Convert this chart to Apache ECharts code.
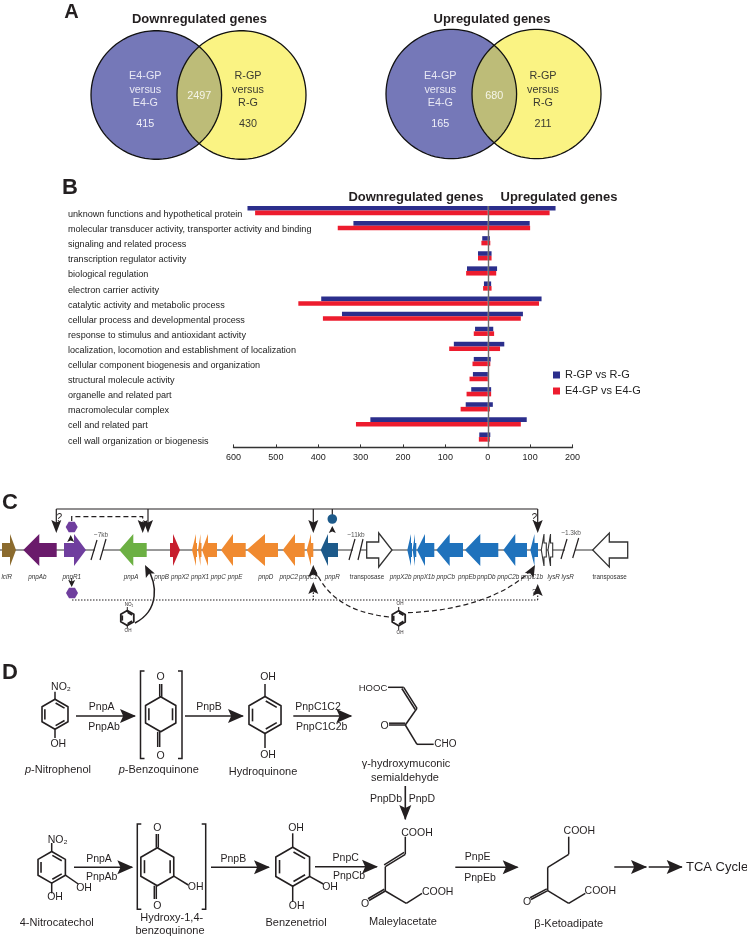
<!DOCTYPE html>
<html><head><meta charset="utf-8">
<style>html,body{margin:0;padding:0;background:#fff}#c{width:747px;height:939px}</style>
<script src="https://cdn.jsdelivr.net/npm/echarts@6/dist/echarts.min.js"></script>
</head><body><div id="c"></div>
<script>
// ---------- data ----------
const categories = ['unknown functions and hypothetical protein','molecular transducer activity, transporter activity and binding','signaling and related process','transcription regulator activity','biological regulation','electron carrier activity','catalytic activity and metabolic process','cellular process and developmental process','response to stimulus and antioxidant activity','localization, locomotion and establishment of localization','cellular component biogenesis and organization','structural molecule activity','organelle and related part','macromolecular complex','cell and related part','cell wall organization or biogenesis'];
const rgpDown = [567,317,13,23,49,9,393,344,30,80,33,35,39,52,277,20];
const rgpUp   = [160,99,5,9,22,8,127,83,13,39,7,2,8,12,92,6];
const e4Down  = [549,354,15,23,51,11,447,389,33,91,36,43,50,64,311,21];
const e4Up    = [146,100,6,9,20,9,121,78,15,29,6,1,8,5,78,5];
const vennDown = {left:'415', both:'2497', right:'430'};
const vennUp   = {left:'165', both:'680', right:'211'};
const geneNames = ['lclR','pnpAb','pnpR1','pnpA','pnpB','pnpX2','pnpX1','pnpC','pnpE','pnpD','pnpC2','pnpC1','pnpR','transposase','pnpX2b','pnpX1b','pnpCb','pnpEb','pnpDb','pnpC2b','pnpC1b','lysR','lysR','transposase'];
const geneTail = [2,56.7,64,146.7,170,197,201.5,217,245.7,278,304.7,313.3,338,366.7,412,416.3,434.3,463,498.3,527,538,546.3,552.7,627.7];
const geneNeck = [10,39.3,74,133.3,173,196,200.5,208,233,265,295,311,328,378.7,411,415,425,449.7,480.3,515.3,534.5,544,550.5,609.3];
const geneTip  = [16,23.3,86,119.3,180,192,198,202,221,246.7,282.7,306.7,320.7,392,407.3,412.6,417,436.3,465,503.3,530.3,541.3,548,592.7];

// ---------- layout & style ----------
const FF = '"Liberation Sans",Arial,sans-serif';
const INK = '#231F20';
const geneColors = ['#8B6B2E','#6A1B6B','#6F3E9E','#6CB043','#C7202F','#F08A30','#F08A30','#F08A30','#F08A30','#F08A30','#F08A30','#F08A30','#1D5A8A','#fff','#1F72BC','#1F72BC','#1F72BC','#1F72BC','#1F72BC','#1F72BC','#1F72BC','#fff','#fff','#fff'];
const geneLabelX = [6.7,37.3,71.7,131,161.7,180,200,218.3,235,265.7,288.7,308.3,332.3,367,400.7,424,445.7,467,486.3,508.3,532,553.7,567.7,609.7];
const G = [];
const Z = 10;
function text(x,y,s,size,o){o=o||{};
  const st={x,y,text:s,fontSize:size,fontFamily:FF,fill:o.fill||INK,align:o.align||'center',verticalAlign:'middle',fontWeight:o.weight||'normal',fontStyle:o.style||'normal'};
  if(o.rich)st.rich=o.rich;
  G.push({type:'text',silent:true,z:Z,style:st});
}
function line(x1,y1,x2,y2,w,o){o=o||{};
  G.push({type:'line',silent:true,z:Z,shape:{x1,y1,x2,y2},style:{stroke:o.c||INK,lineWidth:w||1.3,lineDash:o.dash||null}});
}
function head(x,y,dx,dy,L,W,c){
  const n=Math.hypot(dx,dy);dx/=n;dy/=n;const px=-dy,py=dx;
  const p=[[x,y],[x-dx*L+px*W,y-dy*L+py*W],[x-dx*L*.8,y-dy*L*.8],[x-dx*L-px*W,y-dy*L-py*W]];
  G.push({type:'polygon',silent:true,z:Z,shape:{points:p},style:{fill:c||INK}});
}
function arrow(x1,y1,x2,y2,o){o=o||{};
  line(x1,y1,x2-(x2-x1)*.02,y2-(y2-y1)*.02,o.w||1.6,{dash:o.dash});
  head(x2,y2,x2-x1,y2-y1,o.L||16,o.W||7);
}
function dbl(x1,y1,x2,y2,off,w){
  const d=Math.hypot(x2-x1,y2-y1),px=-(y2-y1)/d*off,py=(x2-x1)/d*off;
  line(x1,y1,x2,y2,w||1.5);line(x1+px,y1+py,x2+px,y2+py,w||1.5);
}
function ring(cx,cy,r,dbls,w){
  const v=[];for(let i=0;i<6;i++){const a=(-90+60*i)*Math.PI/180;v.push([cx+r*Math.cos(a),cy+r*Math.sin(a)]);}
  G.push({type:'polygon',silent:true,z:Z,shape:{points:v},style:{fill:'none',stroke:INK,lineWidth:w||1.6,lineJoin:'round'}});
  dbls.forEach(i=>{const a=v[i],b=v[(i+1)%6],k=.78;
    const ax=cx+(a[0]-cx)*k,ay=cy+(a[1]-cy)*k,bx=cx+(b[0]-cx)*k,by=cy+(b[1]-cy)*k;
    line(ax+(bx-ax)*.06,ay+(by-ay)*.06,bx-(bx-ax)*.06,by-(by-ay)*.06,w||1.6);
  });
}
function bracket(x1,x2,y1,y2){
  const s=4,w=1.5;
  G.push({type:'polyline',silent:true,z:Z,shape:{points:[[x1+s,y1],[x1,y1],[x1,y2],[x1+s,y2]]},style:{fill:'none',stroke:INK,lineWidth:w}});
  G.push({type:'polyline',silent:true,z:Z,shape:{points:[[x2-s,y1],[x2,y1],[x2,y2],[x2-s,y2]]},style:{fill:'none',stroke:INK,lineWidth:w}});
}
function curve(x1,y1,c1x,c1y,c2x,c2y,x2,y2,w,dash){
  G.push({type:'bezierCurve',silent:true,z:Z,shape:{x1,y1,cpx1:c1x,cpy1:c1y,cpx2:c2x,cpy2:c2y,x2,y2},style:{fill:'none',stroke:INK,lineWidth:w,lineDash:dash||null}});
}
function ell(cx,cy,rx,ry,from,to){
  const p=[];const n=90;for(let i=0;i<=n;i++){const a=from+(to-from)*i/n;p.push([cx+rx*Math.cos(a),cy+ry*Math.sin(a)]);}return p;
}
function venn(lx,rx,cy,ry,lrx,rrx,vals,title,tx){
  const lc='#7578B8',rc='#FAF383',mc='#BDBC78';
  G.push({type:'polygon',silent:true,z:1,shape:{points:ell(lx,cy,lrx,ry,0,Math.PI*2)},style:{fill:lc}});
  G.push({type:'polygon',silent:true,z:1,shape:{points:ell(rx,cy,rrx,ry,0,Math.PI*2)},style:{fill:rc}});
  const ix=lx+lrx*.656, a1=Math.acos((ix-lx)/lrx), a2=Math.acos((rx-ix)/rrx);
  const lens=ell(lx,cy,lrx,ry,-a1,a1).concat(ell(rx,cy,rrx,ry,Math.PI-a2,Math.PI+a2));
  G.push({type:'polygon',silent:true,z:1,shape:{points:lens},style:{fill:mc}});
  [[lx,lrx],[rx,rrx]].forEach(e=>G.push({type:'polygon',silent:true,z:2,shape:{points:ell(e[0],cy,e[1],ry,0,Math.PI*2)},style:{fill:'none',stroke:'#111',lineWidth:1.3}}));
  const ltx=lx-11, rtx=rx+6.5;
  ['E4-GP','versus','E4-G'].forEach((s,i)=>text(ltx,[76,90,103][i],s,10.8,{fill:'#E8E8F4'}));
  ['R-GP','versus','R-G'].forEach((s,i)=>text(rtx,[76,90,103][i],s,10.8,{fill:'#3a3a30'}));
  text(ltx,124,vals.left,10.8,{fill:'#F0F0F8'});
  text(rtx,124,vals.right,10.8,{fill:'#3a3a30'});
  text(ix,96,vals.both,10.8,{fill:'#F5F5E8'});
  text(tx,19,title,13,{weight:'bold'});
}
// panel letters
text(71.5,12,'A',20,{weight:'bold'});
text(70,188,'B',22,{weight:'bold'});
text(10,503,'C',22,{weight:'bold'});
text(10,673,'D',22,{weight:'bold'});
// A
venn(156.3,241.5,95,64.3,65.3,64.5,vennDown,'Downregulated genes',199.5);
venn(451.3,536.5,94,64.7,65.3,64.5,vennUp,'Upregulated genes',492);
// B headers
text(483.5,197,'Downregulated genes',13,{weight:'bold',align:'right'});
text(500.5,197,'Upregulated genes',13,{weight:'bold',align:'left'});

// C: backbone segments
[[0,95],[103,353],[361,565],[575,593]].forEach(s=>G.unshift({type:'line',silent:true,z:3,shape:{x1:s[0],y1:550,x2:s[1],y2:550},style:{stroke:'#333',lineWidth:1}}));
[[91,560,97,540],[100,560,106,539],[349,560,355,539],[358,560,363,539],[561,559,567,539],[572.7,558,578.7,538]].forEach(s=>line(s[0],s[1],s[2],s[3],1.2));
text(101,535,'~7kb',6.5,{fill:'#555'});
text(356,535,'~11kb',6.5,{fill:'#555'});
text(571,533,'~1.3kb',6.5,{fill:'#555'});
geneNames.forEach((n,i)=>text(geneLabelX[i],577,n,6.3,{style:n==='transposase'?'normal':'italic',fill:'#333'}));
// regulation lines
line(56.3,509,537.7,509,1.2);
[56.3,148,313.3,537.7].forEach(x=>{line(x,509,x,530,1.2);head(x,533,0,1,13,5);});
line(332.3,509,332.3,515,1.2);
G.push({type:'circle',silent:true,z:Z,shape:{cx:332.3,cy:519,r:4.8},style:{fill:'#1D5A8A'}});
head(332.3,526,0,-1,7,3.5);
G.push({type:'polyline',silent:true,z:Z,shape:{points:[[71.7,521],[71.7,516.7],[142.7,516.7],[142.7,528]]},style:{fill:'none',stroke:INK,lineWidth:1.2,lineDash:[5,3]}});
head(142.7,533,0,1,13,5);
function hex(cx,cy,r){const p=[];for(let i=0;i<6;i++){const a=(60*i)*Math.PI/180;p.push([cx+r*Math.cos(a),cy+r*Math.sin(a)]);}
  G.push({type:'polygon',silent:true,z:Z,shape:{points:p},style:{fill:'#6F3E9E'}});}
hex(71.7,527,6);hex(72,593,6);
head(70.7,535,0,-1,7,3.5);
line(71.7,578,71.7,583,1);head(71.7,587,0,1,7,3.5);
line(72,600,537.7,600,1.1,{dash:[1.5,1.5]});
line(537.7,600,537.7,590,1.1,{dash:[1.5,1.5]});
line(313.3,600,313.3,587,1.1,{dash:[1.5,1.5]});
head(537.7,584,0,-1,12,5);head(313.3,582,0,-1,12,5);
head(313.3,565,0,-1,12,5);head(535,565,.55,-1,12,5);
text(59,518,'?',10,{style:'italic'});text(534,518,'?',10,{style:'italic'});
text(314,592,'?',8,{style:'italic'});text(534,592,'?',8,{style:'italic'});
// substrates in C
ring(127.3,618,7.5,[0,2,4],1.8);text(129,604.5,'NO₂',4.6);text(128,631,'OH',4.6);
line(127.3,610.5,127.3,607,1);line(127.3,625.5,127.3,628.5,1);
curve(135,623,160,610,157,583,147,568,1.5);head(145,565,-.5,-1,12,5);
ring(398.7,618.3,7.5,[0,2,4],1.8);text(400,604,'OH',4.6);text(400,632.5,'OH',4.6);
line(398.7,610.8,398.7,607,1);line(398.7,625.8,398.7,630,1);
curve(389,617,345,612,326,594,315,570,1.2,[5,3]);
curve(408,612.7,455,611,505,598,532,569,1.2,[5,3]);

// D row 1
const rp={i:{fontStyle:'italic',fontSize:11,fontFamily:FF,fill:INK}};
ring(55,714.3,15,[0,2,4]);line(55,699.3,55,691.7,1.5);line(55,729.3,55,738,1.5);
text(61,686.7,'NO₂',10.5);text(58.3,744.3,'OH',10.5);
text(58,770,'{i|p}-Nitrophenol',11,{rich:rp});
arrow(76,716,136,716);text(101.7,707.3,'PnpA',10.5);text(104,726.7,'PnpAb',10.5);
ring(160.7,714.3,17.5,[1,4]);dbl(159.7,696.8,159.7,684,2);text(160.7,677,'O',10.5);dbl(159.7,731.8,159.7,747,2);text(160.7,755.7,'O',10.5);
bracket(140.5,182,671,758.5);
text(158.7,770,'{i|p}-Benzoquinone',11,{rich:rp});
arrow(185,716,244,716);text(209,707.3,'PnpB',10.5);
ring(265,715,18.5,[0,2,4]);line(265,696.5,265,684,1.5);line(265,733.5,265,748,1.5);
text(268,677,'OH',10.5);text(268,755,'OH',10.5);text(263,771.7,'Hydroquinone',11);
arrow(293.3,716,352.3,716);text(318,707.3,'PnpC1C2',10.5);text(321.7,726.7,'PnpC1C2b',10.5);
// muconic semialdehyde
text(373,688.3,'HOOC',9.5);line(388,687.3,403.7,687.3,1.5);dbl(403.7,687.3,417,708.3,2.2);line(417,708.3,405.3,725,1.5);
dbl(405.3,725,389,725,1.8);text(384.7,725.7,'O',10.5);line(405.3,725,417,744.3,1.5);line(417,744.3,433.7,744.3,1.5);text(445.3,744.3,'CHO',10);
text(406,764.3,'γ-hydroxymuconic',11);text(405,777.7,'semialdehyde',11);
arrow(405.3,786,405.3,820,{W:6,L:15});text(402,799.3,'PnpDb',10.5,{align:'right'});text(408.7,799.3,'PnpD',10.5,{align:'left'});

// D row 2
ring(51.7,867.3,15.8,[0,2,4]);line(51.7,851.5,51.7,843,1.5);line(51.7,883,51.7,893.3,1.5);line(65.4,875.2,78.3,884,1.5);
text(57.7,840,'NO₂',10.5);text(84,887.7,'OH',10.5);text(55,897.3,'OH',10.5);text(56.7,923.3,'4-Nitrocatechol',11);
arrow(74,867.3,133.3,867.3);text(99,859.3,'PnpA',10.5);text(101.7,877,'PnpAb',10.5);
ring(157.3,866.7,19,[1,4]);dbl(156.3,847.7,156.3,834,2);text(157.3,828.3,'O',10.5);dbl(156.3,885.7,156.3,899,2);text(157.3,906,'O',10.5);line(173.8,876.2,188.3,885,1.5);text(195.7,887,'OH',10.5);
bracket(137.3,205.7,824,909.3);
text(171.7,918.3,'Hydroxy-1,4-',11);text(170,931,'benzoquinone',11);
arrow(211,867.3,270,867.3);text(233.3,859.3,'PnpB',10.5);
ring(292.7,866.7,19.5,[0,2,4]);line(292.7,847.2,292.7,833.3,1.5);line(292.7,886.2,292.7,901.7,1.5);line(309.6,876.4,323.3,884,1.5);
text(296,828.3,'OH',10.5);text(296.7,906,'OH',10.5);text(330,886.7,'OH',10.5);text(296,923.3,'Benzenetriol',11);
arrow(315,866.7,378,866.7);text(345.7,858.3,'PnpC',10.5);text(349,876,'PnpCb',10.5);
// maleylacetate
text(417,832.7,'COOH',10.5);line(405.3,836.7,405.3,854.3,1.5);dbl(405.3,854.3,385.3,866.7,2.2);line(385.3,866.7,385.3,891,1.5);
dbl(385.3,891,369,900.5,2);text(365,904,'O',10.5);line(385.3,891,406.3,903.3,1.5);line(406.3,903.3,422,893.3,1.5);text(437.7,891.7,'COOH',10.5);
text(403,922.3,'Maleylacetate',11);
arrow(455.3,867.3,518.7,867.3);text(477.7,856.7,'PnpE',10.5);text(480,878,'PnpEb',10.5);
// ketoadipate
text(579.3,831,'COOH',10.5);line(568.7,836.7,568.7,854.3,1.5);line(568.7,854.3,547.7,867.3,1.5);line(547.7,867.3,547.7,890.7,1.5);
dbl(547.7,890.7,531,899.5,2);text(527,901.7,'O',10.5);line(547.7,890.7,568.7,903.3,1.5);line(568.7,903.3,585.3,893.3,1.5);text(600.3,890.7,'COOH',10.5);
text(568.7,924,'β-Ketoadipate',11);
arrow(614.3,867,647,867);arrow(648.7,867,682.7,867);
text(686,867.7,'TCA Cycle',13,{align:'left'});

// ---------- chart ----------
const barStyle=(name,stack,data,color,extra)=>Object.assign({type:'bar',name,stack,data,barWidth:4.6,barGap:'0%',xAxisIndex:0,yAxisIndex:0,itemStyle:{color},silent:true,animation:false},extra||{});
const neg=a=>a.map(v=>-v);
const geneData=geneNames.map((n,i)=>[geneTail[i],geneNeck[i],geneTip[i],i]);
const option={
  animation:false,backgroundColor:'#fff',
  textStyle:{fontFamily:FF},
  grid:[{left:233.5,width:339,top:203,height:241.6},{left:0,top:0,width:747,height:939}],
  legend:{data:['R-GP vs R-G','E4-GP vs E4-G'],orient:'vertical',left:553,top:369,itemWidth:7,itemHeight:7,itemGap:4,icon:'rect',selectedMode:false,padding:0,textStyle:{fontSize:11,lineHeight:12,color:'#222',fontFamily:FF}},
  xAxis:[
    {type:'value',gridIndex:0,min:-600,max:200,interval:100,position:'bottom',offset:2.8,splitLine:{show:false},
     axisLine:{show:true,onZero:false,lineStyle:{color:'#333',width:1.4}},axisTick:{show:true,inside:true,length:3,lineStyle:{color:'#333',width:1}},
     axisLabel:{fontSize:9,color:'#222',margin:6,fontFamily:FF,formatter:v=>String(Math.abs(v))}},
    {type:'value',gridIndex:1,min:0,max:747,show:false}
  ],
  yAxis:[
    {type:'category',gridIndex:0,inverse:true,data:categories,axisLine:{show:false},axisTick:{show:false},
     axisLabel:{interval:0,align:'left',verticalAlign:'top',lineHeight:8,margin:165.5,fontSize:9.1,color:'#222',fontFamily:FF}},
    {type:'value',gridIndex:1,min:0,max:939,inverse:true,show:false}
  ],
  graphic:{elements:G},
  series:[
    barStyle('R-GP vs R-G','rgp',neg(rgpDown),'#2B2E8C',{markLine:{silent:true,symbol:'none',animation:false,label:{show:false},lineStyle:{color:'#6b6b6b',width:1.4,type:'solid'},data:[[{xAxis:0,y:206},{xAxis:0,y:447}]]},z:2}),
    barStyle('R-GP vs R-G','rgp',rgpUp,'#2B2E8C'),
    barStyle('E4-GP vs E4-G','e4',neg(e4Down),'#ED1C2E'),
    barStyle('E4-GP vs E4-G','e4',e4Up,'#ED1C2E'),
    {type:'custom',name:'genes',xAxisIndex:1,yAxisIndex:1,data:geneData,silent:true,animation:false,z:4,clip:false,
     encode:{x:[0,1,2]},
     renderItem:(p,api)=>{
       const i=api.value(3),y=550,white=geneColors[i]==='#fff',big=geneNames[i]==='transposase';
       const bh=big?8:7,hh=big?17:16;
       const pt=(x,dy)=>{const c=api.coord([x,y]);return [c[0],c[1]+dy];};
       const t=api.value(0),n=api.value(1),h=api.value(2);
       const pts=[pt(t,-bh),pt(n,-bh),pt(n,-hh),pt(h,0),pt(n,hh),pt(n,bh),pt(t,bh)];
       return {type:'polygon',shape:{points:pts},style:{fill:geneColors[i],stroke:white?'#333':null,lineWidth:white?(big?1.3:1.1):0}};
     }}
  ]
};
const chart=echarts.init(document.getElementById('c'),null,{renderer:'canvas',width:747,height:939});
chart.setOption(option);
</script></body></html>
